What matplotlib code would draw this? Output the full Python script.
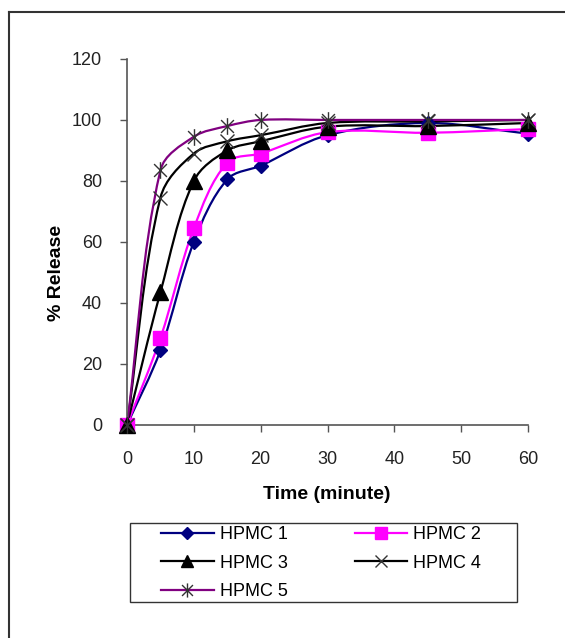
import numpy as np
import matplotlib.pyplot as plt
from matplotlib.path import Path
from matplotlib.patches import PathPatch, Rectangle
from matplotlib.lines import Line2D

plt.rcParams['font.family'] = ['Liberation Sans', 'DejaVu Sans']

# Release data
time = [0, 5, 10, 15, 20, 30, 45, 60]
hpmc1 = [0, 24.5, 60, 80.5, 85, 95, 99, 95.5]
hpmc2 = [0, 28.5, 64.5, 86, 89, 96, 95.8, 97]
hpmc3 = [0, 43.5, 80, 90, 93, 97.8, 98, 99]
hpmc4 = [0, 74.5, 89, 93, 95, 99, 99.5, 100]
hpmc5 = [0, 83.5, 94.5, 98, 100, 100, 100, 100]
labels = ['HPMC 1', 'HPMC 2', 'HPMC 3', 'HPMC 4', 'HPMC 5']

# asterisk marker like the spreadsheet "star"
star = Path([(-1, -1), (1, 1), (-1, 1), (1, -1), (0, -1.3), (0, 1.3)],
            [Path.MOVETO, Path.LINETO, Path.MOVETO, Path.LINETO, Path.MOVETO, Path.LINETO])

styles = [
    dict(color='#000080', marker='D', ms=7, mfc='#000080', mec='#000080'),
    dict(color='#FF00FF', marker='s', ms=9.5, mfc='#FF00FF', mec='#FF00FF'),
    dict(color='black', marker='^', ms=11, mfc='black', mec='black'),
    dict(color='black', marker='x', ms=10, mfc='none', mec='#333333', mew=1),
    dict(color='#800080', marker=star, ms=12, mfc='none', mec='#333333', mew=1),
]


def smooth_path(ax, x, y):
    # bezier through the points, tangents worked out in screen space
    pts = ax.transData.transform(np.column_stack([x, y]).astype(float))
    n = len(pts)
    tang = []
    for i in range(n):
        d = pts[min(i + 1, n - 1)] - pts[max(i - 1, 0)]
        tang.append(d / (np.hypot(*d) or 1))
    verts = [pts[0]]
    codes = [Path.MOVETO]
    for i in range(n - 1):
        seg = np.hypot(*(pts[i + 1] - pts[i]))
        verts += [pts[i] + tang[i] * seg / 3, pts[i + 1] - tang[i + 1] * seg / 3, pts[i + 1]]
        codes += [Path.CURVE4] * 3
    verts = ax.transData.inverted().transform(np.array(verts))
    return Path(verts, codes)


fig = plt.figure(figsize=(5.65, 6.38), dpi=100)
ax = fig.add_axes([0.2248, 0.3339, 0.7097, 0.5737])
ax.set_xlim(0, 60)
ax.set_ylim(0, 120)

series = [hpmc1, hpmc2, hpmc3, hpmc4, hpmc5]
handles = []
for vals, st, lab in zip(series, styles, labels):
    ax.add_patch(PathPatch(smooth_path(ax, time, vals), fill=False, edgecolor=st['color'],
                           lw=1.6, zorder=2))
    ax.plot(time, vals, ls='none', marker=st['marker'], ms=st['ms'], mfc=st['mfc'],
            mec=st['mec'], mew=st.get('mew', 1), clip_on=False, zorder=3)
    handles.append(Line2D([], [], color=st['color'], lw=1.6, marker=st['marker'],
                          ms=st['ms'] * 0.85, mfc=st['mfc'], mec=st['mec'],
                          mew=st.get('mew', 1)))

ax.set_xticks(range(0, 61, 10))
ax.set_yticks(range(0, 121, 20))
for s in ['top', 'right']:
    ax.spines[s].set_visible(False)
for s in ['left', 'bottom']:
    ax.spines[s].set_color('#555555')
    ax.spines[s].set_linewidth(1.2)
ax.tick_params(axis='y', direction='out', length=5, width=1, color='#555555',
               labelsize=13, pad=13, labelcolor='#222222')
ax.tick_params(axis='x', direction='out', length=5, width=1, color='#555555',
               labelsize=13, pad=14, labelcolor='#222222')

ax.set_xlabel('Time (minute)', fontsize=14, fontweight='bold')
ax.set_ylabel('% Release', fontsize=14, fontweight='bold')
ax.xaxis.set_label_coords(0.499, -0.167)
ax.yaxis.set_label_coords(-0.155, 0.415)

# legend filled row by row like the original, boxed separately
order = [0, 2, 4, 1, 3]
leg = fig.legend([handles[i] for i in order], [labels[i] for i in order],
                 loc='upper left', bbox_to_anchor=(161 / 565, 1 - 526 / 638),
                 ncol=2, fontsize=13, frameon=False,
                 handlelength=2.93, handletextpad=0.33, columnspacing=3.7,
                 labelspacing=0.64, borderpad=0, borderaxespad=0)
fig.add_artist(Rectangle((130 / 565, 1 - 602 / 638), 387 / 565, 79 / 638,
                         transform=fig.transFigure, fill=False,
                         edgecolor='#333333', lw=1))

# outer frame (top and left edges only)
fig.add_artist(Line2D([8.5 / 565, 1], [1 - 11.5 / 638, 1 - 11.5 / 638],
                      transform=fig.transFigure, color='#333333', lw=1.5))
fig.add_artist(Line2D([8.5 / 565, 8.5 / 565], [0, 1 - 11.5 / 638],
                      transform=fig.transFigure, color='#333333', lw=1.5))

fig.savefig('out.png', dpi=100)
